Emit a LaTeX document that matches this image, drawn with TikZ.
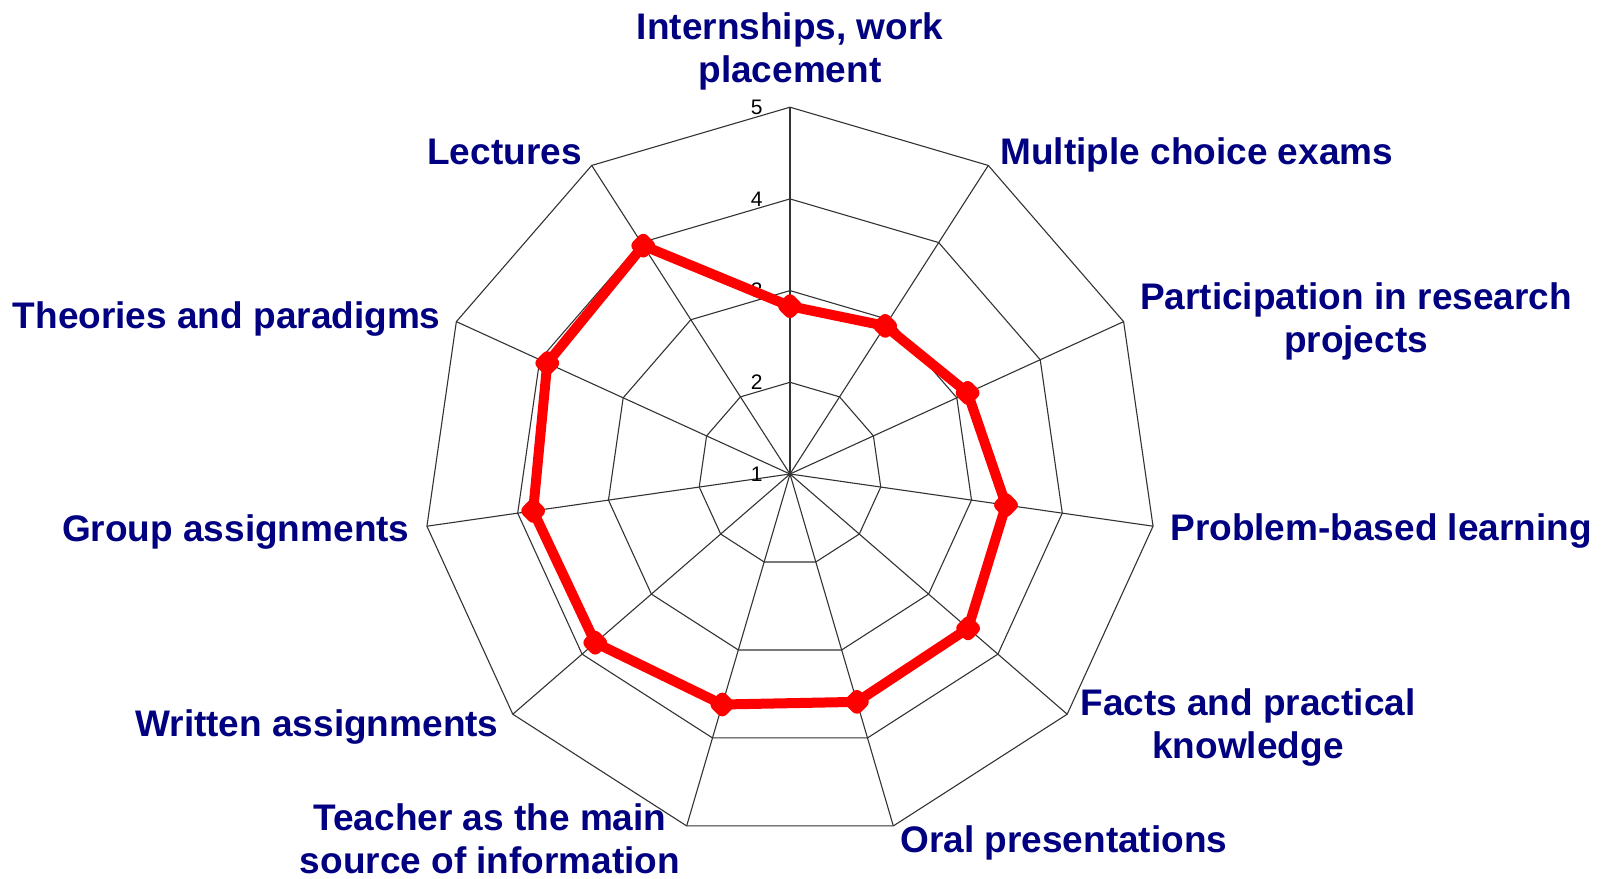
\documentclass[tikz,border=0pt]{standalone}
\usepackage{fontspec}
\setmainfont{Liberation Sans}
\usetikzlibrary{shapes.geometric}
\definecolor{labelblue}{RGB}{0,0,128}
\tikzset{
  axislabel/.style={font=\fontsize{18.5}{21.5}\selectfont\bfseries, text=labelblue, inner sep=0pt, align=center},
  ticklabel/.style={font=\fontsize{10.5}{12}\selectfont, inner sep=0pt, anchor=east},
  gridline/.style={draw=black!80, line width=0.55pt},
  dataline/.style={draw=red, line width=5pt, line join=round},
  datamark/.style={diamond, fill=red, inner sep=0pt, minimum size=14.5pt, rounded corners=3pt}
}
\begin{document}
\begin{tikzpicture}[x=0.5pt,y=0.5pt]
  \useasboundingbox (-790,-405) rectangle (818,474);
  \coordinate (c) at (0,0);
  \foreach \i in {0,...,10} {
    \coordinate (a\i) at ({90-\i*360/11}:366.8);
    \draw[gridline] (c) -- (a\i);
  }
  \foreach \k in {1,...,4} {
    \draw[gridline] (90:{\k*91.7}) \foreach \i in {1,...,10} { -- ({90-\i*360/11}:{\k*91.7}) } -- cycle;
  }
  \foreach \k in {1,...,5} {
    \node[ticklabel] (t\k) at (-27,{(\k-1)*91.7}) {\k};
  }
  \foreach \v [count=\i from 0] in {2.83,2.92,3.13,3.38,3.57,3.59,3.62,3.81,3.83,3.91,3.96} {
    \coordinate (p\i) at ({90-\i*360/11}:{(\v-1)*91.7});
  }
  \draw[dataline] (p0) \foreach \i in {1,...,10} { -- (p\i) } -- cycle;
  \foreach \i in {0,...,10} {
    \node[datamark] (m\i) at (p\i) {};
  }
  \node[axislabel, anchor=north] (lint) at (0,462) {Internships, work\\placement};
  \node[axislabel, anchor=base west] (lmc) at (210,309) {Multiple choice exams};
  \node[axislabel, anchor=north] (lpart) at (566,192) {Participation in research\\projects};
  \node[axislabel, anchor=base west] (lprob) at (380,-66) {Problem-based learning};
  \node[axislabel, anchor=north] (lfacts) at (458,-214) {Facts and practical\\knowledge};
  \node[axislabel, anchor=base west] (loral) at (110,-378) {Oral presentations};
  \node[axislabel, anchor=north] (lteach) at (-300,-329) {Teacher as the main\\source of information};
  \node[axislabel, anchor=base east] (lwrit) at (-291,-262) {Written assignments};
  \node[axislabel, anchor=base east] (lgroup) at (-380,-67) {Group assignments};
  \node[axislabel, anchor=base east] (ltheo) at (-349,146) {Theories and paradigms};
  \node[axislabel, anchor=base east] (llect) at (-208,309) {Lectures};
\end{tikzpicture}
\end{document}
